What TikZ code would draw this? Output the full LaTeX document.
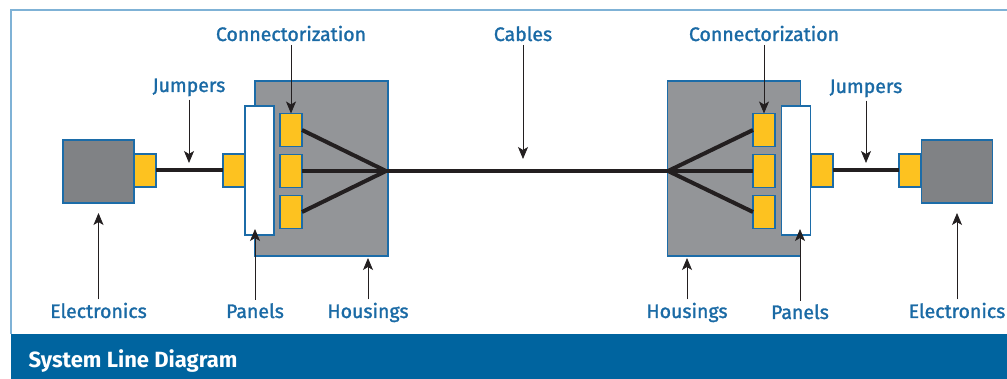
\documentclass[tikz,border=0pt]{standalone}
\usepackage{fontspec}
\setmainfont{Fira Sans}
\newfontfamily\lblfont{Fira Sans}[FakeBold=1.4]
\usetikzlibrary{arrows.meta}
\definecolor{lineblue}{HTML}{1C6CA8}
\definecolor{txtblue}{HTML}{1A6AA5}
\definecolor{bandblue}{HTML}{00649F}
\definecolor{frameblue}{HTML}{7FB2D6}
\definecolor{elecgray}{HTML}{808285}
\definecolor{housegray}{HTML}{939598}
\definecolor{plugyellow}{HTML}{FDC220}
\definecolor{cablegray}{HTML}{231F20}
\begin{document}
\begin{tikzpicture}[x=1pt,y=-1pt,
  box/.style={draw=lineblue,line width=1.7pt,inner sep=0pt,outer sep=0pt},
  elec/.style={box,fill=elecgray,minimum width=71pt,minimum height=63pt},
  housing/.style={box,fill=housegray,minimum width=133pt,minimum height=175pt},
  panel/.style={box,fill=white,minimum width=29pt,minimum height=129pt},
  plug/.style={box,fill=plugyellow,minimum width=22pt,minimum height=33pt},
  cable/.style={line width=4pt,draw=cablegray},
  lbl/.style={text=txtblue,anchor=base,font=\lblfont\fontsize{19.5}{22}\selectfont},
  pointer/.style={-{Stealth[length=12pt,width=10pt,inset=3pt]},line width=0.8pt,draw=cablegray}]
  \useasboundingbox (0,0) rectangle (1007,379);
  % frame and title band
  \draw[frameblue,line width=1.2pt] (11,334) -- (11,10) -- (1007,10);
  \fill[bandblue] (11,334) rectangle (1007,379);
  \node[anchor=west,text=white,font=\fontsize{22}{26}\selectfont\bfseries] (title) at (25,361) {System Line Diagram};

  % left end
  \node[housing] (housL) at (321.5,168.5) {};
  \node[elec] (elecL) at (98.5,171.5) {};
  \node[plug] (plugEL) at (145,170.5) {};
  \node[plug] (plugPL) at (234,170.5) {};
  \node[panel] (panelL) at (259.5,170.5) {};
  \node[plug] (conL1) at (291,130) {};
  \node[plug] (conL2) at (291,171) {};
  \node[plug] (conL3) at (291,212) {};
  \coordinate (fanL) at (386,171);

  % right end
  \node[housing] (housR) at (734,168.5) {};
  \node[plug] (conR1) at (764,130) {};
  \node[plug] (conR2) at (764,171) {};
  \node[plug] (conR3) at (764,212) {};
  \node[panel] (panelR) at (796,170.5) {};
  \node[plug] (plugPR) at (822,170.5) {};
  \node[plug] (plugER) at (910,170.5) {};
  \node[elec] (elecR) at (957,171.5) {};
  \coordinate (fanR) at (668,171);

  % jumpers and cables
  \draw[cable] (plugEL.east) -- (plugPL.west);
  \draw[cable] (plugPR.east) -- (plugER.west);
  \draw[cable] (conL1.east) -- (fanL) -- (conL3.east);
  \draw[cable] (conL2.east) -- (fanL) -- (fanR) -- (conR2.west);
  \draw[cable] (conR1.west) -- (fanR) -- (conR3.west);

  % labels
  \node[lbl] (cnL) at (291,41) {Connectorization};
  \node[lbl] (cnR) at (764,41) {Connectorization};
  \node[lbl] (cab) at (523,41) {Cables};
  \node[lbl] (jmpL) at (189,92) {Jumpers};
  \node[lbl] (jmpR) at (866,93) {Jumpers};
  \node[lbl] (elL) at (98.5,318) {Electronics};
  \node[lbl] (elR) at (957,318) {Electronics};
  \node[lbl] (pnL) at (255,318) {Panels};
  \node[lbl] (pnR) at (800,319) {Panels};
  \node[lbl] (hsL) at (368,318) {Housings};
  \node[lbl] (hsR) at (687,318) {Housings};

  \coordinate (tipJL) at (189,163);
  \coordinate (tipJR) at (866,163);
  \coordinate (tipCab) at (523,159);
  \coordinate (tipEL) at (98.5,213);
  \coordinate (tipER) at (957,213);
  \coordinate (tipPL) at (255,229);
  \coordinate (tipPR) at (800,229);
  \coordinate (tipHL) at (368,258);
  \coordinate (tipHR) at (687,258);

  \draw[pointer] (cnL) -- (conL1.north);
  \draw[pointer] (cnR) -- (conR1.north);
  \draw[pointer] (cab) -- (tipCab);
  \draw[pointer] (jmpL) -- (tipJL);
  \draw[pointer] (jmpR) -- (tipJR);
  \draw[pointer] (elL) -- (tipEL);
  \draw[pointer] (elR) -- (tipER);
  \draw[pointer] (pnL) -- (tipPL);
  \draw[pointer] (pnR) -- (tipPR);
  \draw[pointer] (hsL) -- (tipHL);
  \draw[pointer] (hsR) -- (tipHR);
\end{tikzpicture}
\end{document}
